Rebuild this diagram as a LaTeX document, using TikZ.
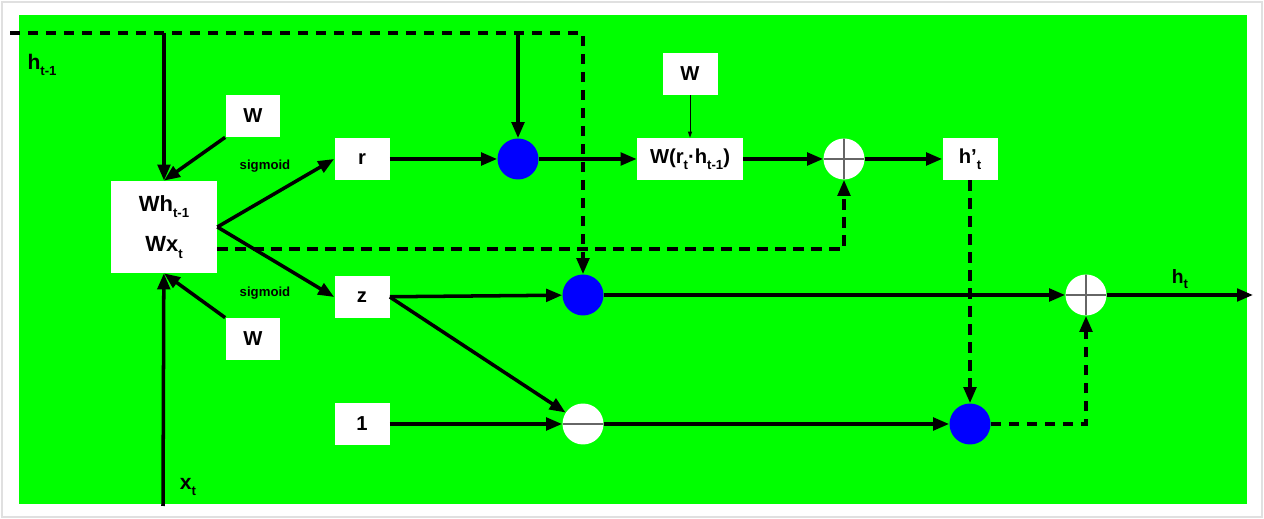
\documentclass[tikz,border=0pt]{standalone}
\usepackage{fontspec}
\setmainfont{Liberation Sans}
\usetikzlibrary{arrows.meta}
\newcommand{\sbs}[1]{\raisebox{-0.55ex}{\fontsize{7.5}{8}\selectfont #1}}

\begin{document}
\begin{tikzpicture}[x=0.02cm,y=-0.02cm,
  box/.style={fill=white,inner sep=0pt,minimum width=1.1cm,minimum height=0.84cm,font=\fontsize{11.5}{13}\selectfont\bfseries},
  dot/.style={circle,fill=blue,inner sep=0pt,minimum size=0.82cm},
  plus/.style={circle,fill=white,inner sep=0pt,minimum size=0.82cm,path picture={\draw[black!60,line width=0.8pt] (path picture bounding box.north) -- (path picture bounding box.south) (path picture bounding box.west) -- (path picture bounding box.east);}},
  minus/.style={circle,fill=white,inner sep=0pt,minimum size=0.82cm,path picture={\draw[black!60,line width=0.6pt] (path picture bounding box.west) -- (path picture bounding box.east);}},
  arr/.style={line width=2pt,-{Triangle[length=0.32cm,width=0.25cm]}},
  dsh/.style={arr,dash pattern=on 0.21cm off 0.15cm},
  lbl/.style={font=\fontsize{12}{14}\selectfont\bfseries,inner sep=0pt},
  sig/.style={font=\fontsize{7.5}{9}\selectfont\bfseries,inner sep=0pt}]
\path[use as bounding box,fill=white] (0,0) rectangle (1264,519);
\draw[black!12,line width=1pt] (2,2) rectangle (1262,517);
\fill[green] (19,15) rectangle (1247,504);

\node[box,minimum width=2.12cm,minimum height=1.84cm,align=center,font=\fontsize{12.5}{14}\selectfont\bfseries] (Wh) at (164,227) {Wh\sbs{t-1}\\[9pt]Wx\sbs{t}};
\node[box] (W1) at (253,116) {W};
\node[box] (W2) at (253,339) {W};
\node[box] (r) at (362,159) {r};
\node[box] (z) at (362,297) {z};
\node[box] (one) at (362,424) {1};
\node[dot] (rmul) at (518,159) {};
\node[box] (Wtop) at (690,74) {W};
\node[box,minimum width=2.12cm] (Wrh) at (690,159) {W(r\sbs{t}·h\sbs{t-1})};
\node[plus] (plusr) at (844,159) {};
\node[box] (hp) at (970,159) {h’\sbs{t}};
\node[dot] (zmul) at (583,295) {};
\node[plus] (plush) at (1086,295) {};
\node[minus] (omz) at (583,424) {};
\node[dot] (hmul) at (970,424) {};
\coordinate (hin) at (10,33);
\coordinate (xin) at (163,506);
\coordinate (hout) at (1253,295);
\node[lbl] (hlab) at (42,65) {h\sbs{t-1}};
\node[lbl] (xlab) at (188,487) {x\sbs{t}};
\node[lbl,font=\fontsize{11}{13}\selectfont\bfseries] (hlabout) at (1180,279) {h\sbs{t}};
\node[sig] (sigr) at (265,166) {sigmoid};
\node[sig] (sigz) at (265,293) {sigmoid};

\draw[dsh] (hin) -| (zmul);
\draw[arr] (Wh.north |- hin) -- (Wh);
\draw[arr] (rmul |- hin) -- (rmul);
\draw[arr] (W1.south west) -- (Wh.north);
\draw[arr] (W2.north west) -- (Wh.south);
\draw[arr] (xin) -- (Wh);
\draw[arr] (Wh.east) -- (r.west);
\draw[arr] (Wh.east) -- (z.west);
\draw[dsh] ([yshift=-0.44cm]Wh.east) -| (plusr);
\draw[arr] (r) -- (rmul);
\draw[arr] (rmul) -- (Wrh);
\draw[line width=0.5pt,-{Triangle[length=0.12cm,width=0.08cm]}] (Wtop) -- (Wrh);
\draw[arr] (Wrh) -- (plusr);
\draw[arr] (plusr) -- (hp);
\draw[arr] (z) -- (zmul);
\draw[arr] (zmul) -- (plush);
\draw[arr] (plush) -- (hout);
\draw[arr] (z.east) -- (omz);
\draw[arr] (one) -- (omz);
\draw[arr] (omz) -- (hmul);
\draw[dsh] (hp) -- (hmul);
\draw[dsh] (hmul) -| (plush);
\end{tikzpicture}
\end{document}
